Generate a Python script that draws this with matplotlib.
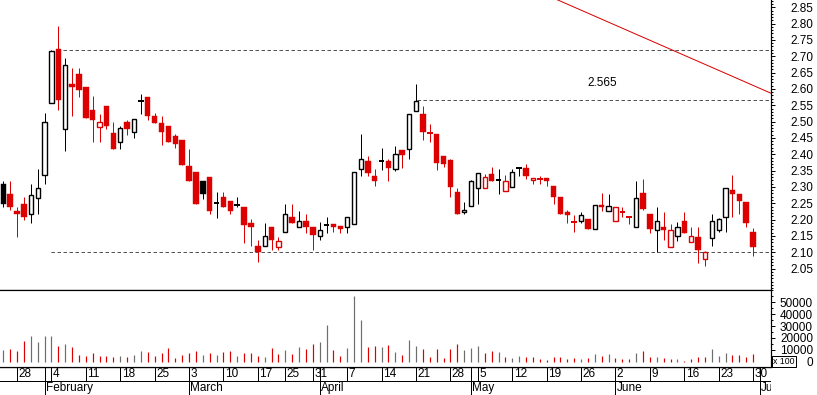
import numpy as np
import pandas as pd
import matplotlib
matplotlib.use("Agg")
import matplotlib.pyplot as plt
from matplotlib.ticker import MultipleLocator, FixedLocator
from matplotlib.patches import Rectangle

plt.rcParams['font.family'] = ['Liberation Sans', 'DejaVu Sans']
plt.rcParams['font.size'] = 8

# trading days (holidays left out)
holidays = ['2008-03-21', '2008-03-24', '2008-05-01']
axis_days = pd.bdate_range('2008-01-24', '2008-07-04')
axis_days = axis_days[~axis_days.isin(pd.to_datetime(holidays))]

opens = [2.308, 2.277, 2.227, 2.247, 2.216, 2.267, 2.337, 2.556, 2.723, 2.477,
         2.615, 2.645, 2.606, 2.536, 2.485, 2.548, 2.466, 2.437, 2.499, 2.468,
         2.564, 2.575, 2.517, 2.496, 2.487, 2.457, 2.444, 2.365, 2.347, 2.317,
         2.329, 2.251, 2.268, 2.256, 2.246, 2.238, 2.189, 2.119, 2.118, 2.177,
         2.117, 2.161, 2.207, 2.178, 2.197, 2.176, 2.149, 2.185, 2.188, 2.182,
         2.178, 2.188, 2.355, 2.378, 2.335, 2.380, 2.378, 2.354, 2.414, 2.415,
         2.532, 2.524, 2.465, 2.463, 2.396, 2.384, 2.286, 2.223, 2.243, 2.297,
         2.297, 2.341, 2.321, 2.288, 2.300, 2.358, 2.359, 2.322, 2.325, 2.328,
         2.302, 2.268, 2.223, 2.193, 2.197, 2.201, 2.172, 2.246, 2.227, 2.196,
         2.224, 2.209, 2.178, 2.280, 2.217, 2.168, 2.177, 2.117, 2.149, 2.197,
         2.133, 2.146, 2.079, 2.143, 2.168, 2.209, 2.292, 2.277, 2.253, 2.161]
highs = [2.317, 2.317, 2.238, 2.268, 2.308, 2.356, 2.527, 2.720, 2.794, 2.694,
         2.663, 2.663, 2.606, 2.578, 2.524, 2.548, 2.499, 2.487, 2.505, 2.507,
         2.584, 2.575, 2.527, 2.517, 2.487, 2.463, 2.444, 2.417, 2.347, 2.317,
         2.329, 2.286, 2.286, 2.256, 2.268, 2.238, 2.203, 2.137, 2.189, 2.177,
         2.147, 2.247, 2.247, 2.226, 2.216, 2.176, 2.192, 2.209, 2.188, 2.182,
         2.208, 2.346, 2.462, 2.396, 2.355, 2.420, 2.386, 2.426, 2.414, 2.522,
         2.615, 2.548, 2.493, 2.463, 2.396, 2.386, 2.298, 2.253, 2.322, 2.343,
         2.340, 2.362, 2.356, 2.338, 2.355, 2.358, 2.371, 2.328, 2.335, 2.328,
         2.302, 2.268, 2.229, 2.213, 2.223, 2.201, 2.246, 2.280, 2.277, 2.240,
         2.239, 2.209, 2.317, 2.323, 2.217, 2.238, 2.223, 2.188, 2.192, 2.223,
         2.178, 2.178, 2.105, 2.218, 2.206, 2.298, 2.338, 2.277, 2.253, 2.173]
lows = [2.239, 2.229, 2.148, 2.198, 2.190, 2.218, 2.309, 2.556, 2.537, 2.409,
        2.518, 2.576, 2.512, 2.439, 2.439, 2.478, 2.415, 2.415, 2.458, 2.449,
        2.524, 2.506, 2.497, 2.427, 2.439, 2.418, 2.366, 2.318, 2.248, 2.262,
        2.218, 2.205, 2.239, 2.218, 2.239, 2.129, 2.120, 2.069, 2.118, 2.108,
        2.108, 2.161, 2.190, 2.178, 2.160, 2.108, 2.138, 2.160, 2.163, 2.160,
        2.160, 2.188, 2.333, 2.333, 2.303, 2.353, 2.317, 2.348, 2.357, 2.385,
        2.532, 2.445, 2.439, 2.353, 2.362, 2.269, 2.218, 2.218, 2.243, 2.248,
        2.297, 2.317, 2.278, 2.288, 2.300, 2.333, 2.323, 2.309, 2.309, 2.304,
        2.247, 2.218, 2.190, 2.163, 2.190, 2.172, 2.172, 2.227, 2.227, 2.196,
        2.208, 2.186, 2.178, 2.229, 2.160, 2.100, 2.138, 2.117, 2.135, 2.159,
        2.133, 2.067, 2.059, 2.119, 2.161, 2.161, 2.209, 2.217, 2.178, 2.090]
closes = [2.248, 2.239, 2.218, 2.208, 2.276, 2.298, 2.498, 2.717, 2.567, 2.674,
          2.607, 2.597, 2.512, 2.506, 2.498, 2.487, 2.415, 2.480, 2.476, 2.507,
          2.564, 2.518, 2.497, 2.467, 2.439, 2.433, 2.366, 2.318, 2.248, 2.278,
          2.226, 2.251, 2.239, 2.227, 2.246, 2.184, 2.178, 2.100, 2.149, 2.138,
          2.134, 2.216, 2.190, 2.197, 2.177, 2.154, 2.168, 2.185, 2.178, 2.172,
          2.208, 2.346, 2.386, 2.342, 2.317, 2.380, 2.357, 2.401, 2.397, 2.522,
          2.562, 2.467, 2.465, 2.373, 2.371, 2.300, 2.218, 2.228, 2.319, 2.343,
          2.332, 2.317, 2.321, 2.319, 2.346, 2.358, 2.333, 2.328, 2.325, 2.318,
          2.269, 2.218, 2.213, 2.193, 2.215, 2.172, 2.246, 2.239, 2.243, 2.240,
          2.224, 2.209, 2.267, 2.232, 2.172, 2.197, 2.168, 2.167, 2.178, 2.159,
          2.149, 2.108, 2.100, 2.197, 2.203, 2.298, 2.278, 2.257, 2.190, 2.117]
volumes = [9730, 10290, 8900, 17240, 21400, 16400, 21400, 21400, 13070, 14460,
           12230, 5560, 4730, 6950, 4730, 4730, 3890, 4730, 3890, 5560,
           8900, 8060, 4730, 6950, 11400, 2780, 5560, 6950, 8900, 5560,
           7500, 5560, 8060, 8900, 4730, 6950, 6950, 4730, 3890, 11400,
           6390, 9730, 6390, 12230, 10290, 14460, 16400, 31100, 9730, 4730,
           11400, 55300, 34750, 12230, 13070, 12230, 13900, 7780, 5560, 18600,
           13600, 10290, 3890, 10290, 2780, 10290, 14460, 9450, 11120, 12790,
           7500, 8620, 7780, 3890, 2780, 4730, 3890, 3890, 1950, 1110,
           3890, 3890, 2220, 2780, 2220, 3340, 6120, 4730, 6120, 3340,
           2220, 2220, 7500, 8620, 3890, 3890, 2780, 2220, 1950, 560,
           1950, 3890, 3890, 10290, 4730, 7500, 5560, 5560, 3890, 6120]

# horizontal levels: (price, first day index)
levels = [(2.72, 7.8), (2.565, 60.1), (2.10, 6.9)]
level_text = "2.565"
trend_x = [80.0, 111.6]
trend_y = [2.878, 2.587]

RED = '#dc0000'
GREY = '#6e6e6e'
PX = 0.72  # one pixel in points

o = np.array(opens); h = np.array(highs); l = np.array(lows); c = np.array(closes)
v = np.array(volumes)
n = len(c)
x = np.arange(n)
prev = np.r_[c[0], c[:-1]]
up = c >= prev
colors = np.where(up, 'black', RED)

W, H = 817, 395
fig = plt.figure(figsize=(W / 100, H / 100), dpi=100)
ax_p = fig.add_axes([0, 1 - 290 / H, 771 / W, 290 / H])
ax_v = fig.add_axes([0, 1 - 367 / H, 771 / W, 77 / H])
ax_d = fig.add_axes([0, 0, 771 / W, 28 / H])
xlim = (-0.48, 111.61)

# candles
ax_p.vlines(x, l, h, colors=colors, linewidth=PX, zorder=2)
doji = o == c
hollow = (c > o)
filled = (c < o)
ax_p.bar(x[filled], (o - c)[filled], bottom=c[filled], width=0.8,
         color=colors[filled], edgecolor=colors[filled], linewidth=0.3, zorder=3)
ax_p.bar(x[hollow], (c - o)[hollow], bottom=o[hollow], width=0.62,
         facecolor='white', edgecolor=colors[hollow], linewidth=1.4 * PX, zorder=3)
ax_p.hlines(c[doji], x[doji] - 0.4, x[doji] + 0.4, colors=colors[doji],
            linewidth=2 * PX, zorder=3)

for lev, start in levels:
    ax_p.hlines(lev, start, xlim[1], colors='#555555', linewidth=PX,
                linestyles=(0, (3.5, 2.5)), zorder=1)
ax_p.text(87.1, 2.618, level_text, ha='center', va='center', fontsize=8.5)
ax_p.plot(trend_x, trend_y, color=RED, linewidth=PX, zorder=1)

ax_p.set_xlim(xlim)
ax_p.set_ylim(1.9846, 2.8723)
ax_p.yaxis.tick_right()
ax_p.yaxis.set_major_locator(FixedLocator(np.round(np.arange(2.05, 2.851, 0.05), 2)))
ax_p.yaxis.set_minor_locator(MultipleLocator(0.01))
ax_p.yaxis.set_major_formatter(plt.FuncFormatter(lambda y, _: '%.2f' % y))
ax_p.set_xticks([])
for s in ['left', 'top']:
    ax_p.spines[s].set_visible(False)

# volume
ax_v.vlines(x, 0, v, colors=np.where(up, GREY, RED), linewidth=1.2 * PX)
ax_v.set_xlim(xlim)
ax_v.set_ylim(-4450, 60250)
ax_v.yaxis.tick_right()
ax_v.yaxis.set_major_locator(FixedLocator(np.arange(0, 50001, 10000)))
ax_v.yaxis.set_minor_locator(FixedLocator(np.arange(5000, 60001, 5000)))
ax_v.set_xticks([])
ax_v.spines['left'].set_visible(False)

for ax in (ax_p, ax_v):
    for s in ax.spines.values():
        s.set_linewidth(1.2 * PX)
    ax.tick_params(axis='y', which='major', direction='out', length=4 * PX,
                   width=PX, pad=38 * PX, labelsize=8.5)
    ax.tick_params(axis='y', which='minor', direction='out', length=2.3 * PX, width=PX)
    for t in ax.get_yticklabels():
        t.set_horizontalalignment('right')

# "x 100" unit box next to the volume axis
fig.patches.append(Rectangle((772 / W, 1 - 366.5 / H), 24 / W, 10.5 / H,
                             transform=fig.transFigure, facecolor='white',
                             edgecolor='black', linewidth=PX, zorder=5))
fig.text(784 / W, 1 - 361.5 / H, 'x 100', ha='center', va='center',
         fontsize=6.3, zorder=6)

# date strip
ax_d.set_xlim(xlim)
ax_d.set_ylim(0, 1)
ax_d.axis('off')
ax_d.axhline(1, color='black', linewidth=1.2 * PX)
ax_d.axhline(0.5, color='black', linewidth=PX)
for i in range(1, len(axis_days)):
    d, p = axis_days[i], axis_days[i - 1]
    if d.isocalendar()[1] != p.isocalendar()[1]:
        ax_d.plot([i, i], [0.5, 1], color='black', linewidth=PX)
        ax_d.text(i + 0.2, 0.74, str(d.day), ha='left', va='center', fontsize=8.5)
    if d.month != p.month:
        ax_d.plot([i, i], [0, 1], color='black', linewidth=PX)
        ax_d.text(i + 0.2, 0.24, d.strftime('%B'), ha='left', va='center',
                  fontsize=8.5, clip_on=True)

fig.savefig('out.png', dpi=100)
